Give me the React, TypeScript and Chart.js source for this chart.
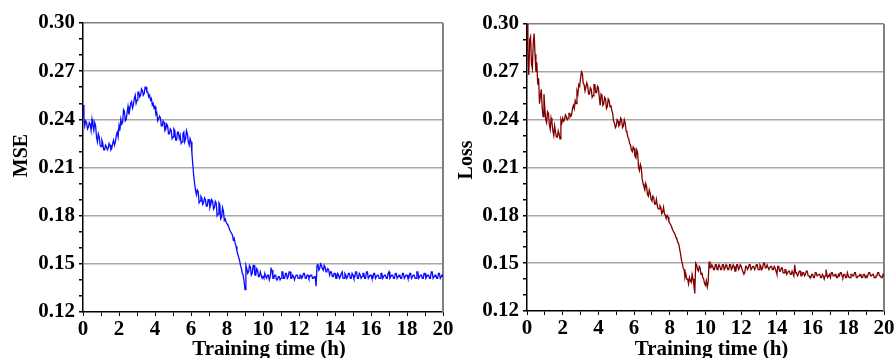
import React, { useEffect, useRef } from 'react';
import { Chart, registerables } from 'chart.js';

Chart.register(...registerables);

// ---------------- data ----------------
const SAMPLE_INTERVAL_H = 0.05; // one reading every 0.05 h, 0 .. 20 h (20 readings per row = 1 hour)

const mseValues = [
  0.249, 0.241, 0.236, 0.239, 0.238, 0.234, 0.235, 0.238, 0.237, 0.233, 0.240, 0.236, 0.233, 0.238, 0.236, 0.229, 0.226, 0.231, 0.229, 0.224,
  0.223, 0.227, 0.225, 0.221, 0.221, 0.224, 0.223, 0.221, 0.222, 0.225, 0.224, 0.221, 0.222, 0.225, 0.227, 0.224, 0.226, 0.230, 0.232, 0.229,
  0.236, 0.233, 0.240, 0.237, 0.238, 0.246, 0.245, 0.239, 0.240, 0.244, 0.248, 0.243, 0.246, 0.250, 0.251, 0.247, 0.249, 0.253, 0.255, 0.250,
  0.252, 0.257, 0.257, 0.254, 0.255, 0.259, 0.258, 0.255, 0.256, 0.260, 0.260, 0.257, 0.257, 0.254, 0.255, 0.252, 0.253, 0.249, 0.250, 0.247,
  0.248, 0.243, 0.244, 0.239, 0.240, 0.242, 0.241, 0.236, 0.236, 0.239, 0.238, 0.233, 0.234, 0.237, 0.236, 0.231, 0.231, 0.234, 0.233, 0.228,
  0.229, 0.234, 0.233, 0.227, 0.227, 0.232, 0.232, 0.228, 0.230, 0.225, 0.226, 0.231, 0.232, 0.226, 0.228, 0.233, 0.231, 0.226, 0.224, 0.228,
  0.226, 0.219, 0.212, 0.205, 0.200, 0.196, 0.193, 0.196, 0.195, 0.188, 0.189, 0.192, 0.191, 0.187, 0.188, 0.191, 0.190, 0.186, 0.186, 0.190,
  0.190, 0.185, 0.187, 0.190, 0.189, 0.184, 0.185, 0.189, 0.188, 0.180, 0.181, 0.188, 0.187, 0.178, 0.179, 0.185, 0.183, 0.177, 0.178, 0.176,
  0.175, 0.174, 0.173, 0.171, 0.170, 0.169, 0.168, 0.165, 0.166, 0.163, 0.161, 0.158, 0.156, 0.154, 0.152, 0.149, 0.147, 0.144, 0.143, 0.139,
  0.134, 0.149, 0.147, 0.144, 0.145, 0.149, 0.148, 0.143, 0.144, 0.149, 0.149, 0.143, 0.143, 0.147, 0.146, 0.142, 0.142, 0.145, 0.143, 0.141,
  0.142, 0.141, 0.144, 0.142, 0.141, 0.143, 0.143, 0.140, 0.142, 0.147, 0.146, 0.141, 0.141, 0.143, 0.143, 0.140, 0.140, 0.142, 0.142, 0.140,
  0.141, 0.145, 0.145, 0.141, 0.141, 0.144, 0.144, 0.141, 0.142, 0.145, 0.145, 0.141, 0.141, 0.143, 0.142, 0.140, 0.142, 0.143, 0.143, 0.141,
  0.141, 0.143, 0.143, 0.141, 0.142, 0.144, 0.144, 0.141, 0.141, 0.143, 0.143, 0.141, 0.142, 0.143, 0.143, 0.141, 0.141, 0.142, 0.142, 0.136,
  0.149, 0.150, 0.146, 0.147, 0.150, 0.149, 0.147, 0.146, 0.149, 0.148, 0.145, 0.146, 0.147, 0.146, 0.143, 0.145, 0.145, 0.142, 0.142, 0.144,
  0.144, 0.141, 0.141, 0.144, 0.143, 0.141, 0.142, 0.144, 0.145, 0.141, 0.141, 0.144, 0.143, 0.141, 0.142, 0.144, 0.144, 0.141, 0.141, 0.144,
  0.143, 0.141, 0.142, 0.145, 0.145, 0.141, 0.141, 0.144, 0.143, 0.141, 0.142, 0.144, 0.144, 0.141, 0.141, 0.145, 0.145, 0.141, 0.142, 0.143,
  0.143, 0.141, 0.141, 0.144, 0.144, 0.141, 0.142, 0.143, 0.143, 0.141, 0.141, 0.144, 0.144, 0.141, 0.142, 0.143, 0.143, 0.141, 0.141, 0.144,
  0.145, 0.141, 0.142, 0.143, 0.143, 0.141, 0.141, 0.144, 0.144, 0.141, 0.142, 0.143, 0.143, 0.141, 0.141, 0.144, 0.144, 0.141, 0.142, 0.143,
  0.143, 0.141, 0.141, 0.144, 0.144, 0.141, 0.142, 0.143, 0.143, 0.141, 0.141, 0.145, 0.145, 0.141, 0.142, 0.143, 0.143, 0.141, 0.141, 0.144,
  0.144, 0.141, 0.142, 0.143, 0.143, 0.141, 0.141, 0.145, 0.145, 0.141, 0.142, 0.143, 0.143, 0.141, 0.141, 0.144, 0.144, 0.141, 0.142, 0.143,
  0.142,
];

const lossValues = [
  0.300, 0.282, 0.268, 0.290, 0.292, 0.275, 0.272, 0.288, 0.294, 0.281, 0.270, 0.276, 0.262, 0.266, 0.250, 0.255, 0.259, 0.248, 0.242, 0.256,
  0.247, 0.240, 0.238, 0.245, 0.244, 0.237, 0.234, 0.241, 0.238, 0.233, 0.230, 0.236, 0.232, 0.229, 0.229, 0.233, 0.231, 0.228, 0.240, 0.238,
  0.241, 0.239, 0.240, 0.243, 0.242, 0.240, 0.241, 0.244, 0.244, 0.242, 0.243, 0.247, 0.249, 0.247, 0.252, 0.250, 0.258, 0.256, 0.262, 0.261,
  0.266, 0.270, 0.269, 0.263, 0.262, 0.258, 0.258, 0.263, 0.261, 0.256, 0.256, 0.260, 0.259, 0.254, 0.255, 0.262, 0.262, 0.257, 0.257, 0.261,
  0.260, 0.254, 0.249, 0.256, 0.255, 0.249, 0.250, 0.254, 0.253, 0.247, 0.248, 0.253, 0.252, 0.248, 0.249, 0.246, 0.244, 0.239, 0.238, 0.235,
  0.236, 0.240, 0.239, 0.236, 0.237, 0.241, 0.240, 0.235, 0.236, 0.240, 0.238, 0.233, 0.232, 0.229, 0.228, 0.225, 0.224, 0.221, 0.220, 0.223,
  0.222, 0.217, 0.216, 0.221, 0.219, 0.210, 0.208, 0.212, 0.210, 0.203, 0.200, 0.198, 0.196, 0.200, 0.198, 0.193, 0.192, 0.196, 0.194, 0.190,
  0.189, 0.192, 0.191, 0.187, 0.187, 0.190, 0.186, 0.184, 0.184, 0.186, 0.185, 0.181, 0.182, 0.185, 0.181, 0.180, 0.178, 0.180, 0.179, 0.176,
  0.175, 0.174, 0.173, 0.171, 0.170, 0.169, 0.168, 0.166, 0.165, 0.163, 0.162, 0.159, 0.156, 0.152, 0.150, 0.147, 0.146, 0.141, 0.143, 0.140,
  0.140, 0.137, 0.141, 0.139, 0.138, 0.143, 0.140, 0.136, 0.131, 0.150, 0.149, 0.146, 0.145, 0.148, 0.147, 0.143, 0.144, 0.141, 0.140, 0.137,
  0.136, 0.139, 0.135, 0.138, 0.151, 0.147, 0.147, 0.149, 0.148, 0.146, 0.146, 0.149, 0.149, 0.146, 0.147, 0.149, 0.148, 0.146, 0.146, 0.149,
  0.149, 0.146, 0.147, 0.149, 0.148, 0.146, 0.146, 0.149, 0.149, 0.146, 0.147, 0.149, 0.148, 0.145, 0.145, 0.149, 0.149, 0.146, 0.147, 0.149,
  0.148, 0.146, 0.146, 0.143, 0.144, 0.148, 0.148, 0.146, 0.147, 0.149, 0.149, 0.146, 0.146, 0.148, 0.148, 0.146, 0.147, 0.149, 0.149, 0.146,
  0.146, 0.149, 0.148, 0.146, 0.147, 0.150, 0.150, 0.147, 0.147, 0.149, 0.149, 0.146, 0.147, 0.148, 0.148, 0.146, 0.146, 0.148, 0.147, 0.145,
  0.143, 0.148, 0.148, 0.145, 0.145, 0.147, 0.147, 0.144, 0.144, 0.146, 0.146, 0.143, 0.144, 0.145, 0.145, 0.143, 0.143, 0.145, 0.145, 0.142,
  0.149, 0.144, 0.144, 0.142, 0.143, 0.145, 0.145, 0.142, 0.142, 0.144, 0.144, 0.142, 0.143, 0.145, 0.145, 0.142, 0.142, 0.141, 0.141, 0.143,
  0.143, 0.141, 0.141, 0.144, 0.144, 0.142, 0.142, 0.143, 0.143, 0.141, 0.141, 0.143, 0.142, 0.140, 0.142, 0.146, 0.143, 0.141, 0.142, 0.143,
  0.141, 0.144, 0.144, 0.142, 0.142, 0.143, 0.143, 0.141, 0.141, 0.143, 0.142, 0.144, 0.144, 0.142, 0.141, 0.143, 0.143, 0.141, 0.141, 0.144,
  0.142, 0.141, 0.141, 0.143, 0.143, 0.142, 0.142, 0.144, 0.144, 0.141, 0.141, 0.142, 0.142, 0.143, 0.143, 0.141, 0.141, 0.143, 0.143, 0.141,
  0.142, 0.141, 0.141, 0.144, 0.144, 0.142, 0.142, 0.143, 0.143, 0.141, 0.141, 0.142, 0.142, 0.144, 0.144, 0.142, 0.142, 0.141, 0.141, 0.143,
  0.142,
];

const xTickLabels = [0, 2, 4, 6, 8, 10, 12, 14, 16, 18, 20];
const yTickLabels = ['0.12', '0.15', '0.18', '0.21', '0.24', '0.27', '0.30'];
const X_TITLE = 'Training time (h)';

// ---------------- styling ----------------
const FONT_FAMILY = "'Liberation Serif', 'Times New Roman', serif";
const tickFont = { family: FONT_FAMILY, size: 21, weight: 'bold' as const };

const frameAndTitles = {
  id: 'frameAndTitles',
  beforeDatasetsDraw(chart: any) {
    const { ctx, chartArea } = chart;
    ctx.save();
    ctx.strokeStyle = '#808080';
    ctx.lineWidth = 2;
    ctx.beginPath();
    ctx.moveTo(chartArea.right, chartArea.top);
    ctx.lineTo(chartArea.right, chartArea.bottom);
    ctx.stroke();
    ctx.restore();
  },
  afterDraw(chart: any, _args: any, opts: any) {
    const { ctx, chartArea } = chart;
    ctx.save();
    ctx.font = `bold 21px ${FONT_FAMILY}`;
    ctx.fillStyle = '#000';
    ctx.textAlign = 'center';
    ctx.textBaseline = 'middle';
    ctx.fillText(opts.xTitle, (chartArea.left + chartArea.right) / 2 + opts.xShift, opts.xTitleY);
    ctx.font = `bold 20px ${FONT_FAMILY}`;
    ctx.translate(opts.yTitleX, (chartArea.top + chartArea.bottom) / 2 + opts.yShift);
    ctx.rotate(-Math.PI / 2);
    ctx.fillText(opts.yTitle, 0, 0);
    ctx.restore();
  },
};

type PanelSpec = {
  values: number[];
  color: string;
  yTitle: string;
  left: number;
  width: number;
  padTop: number;
  padRight: number;
  yAxisWidth: number;
  xAxisHeight: number;
  yTitleX: number;
  yShift: number;
};

function ChartPanel({ spec }: { spec: PanelSpec }) {
  const ref = useRef<HTMLCanvasElement>(null);
  useEffect(() => {
    const points = spec.values.map((v, i) => ({ x: i * SAMPLE_INTERVAL_H, y: v }));
    const chart = new Chart(ref.current!, {
      type: 'line',
      data: {
        datasets: [
          {
            data: points,
            borderColor: spec.color,
            borderWidth: 1.3,
            pointRadius: 0,
            tension: 0,
            fill: false,
          },
        ],
      },
      options: {
        responsive: false,
        animation: false,
        devicePixelRatio: 1,
        layout: { padding: { top: spec.padTop, right: spec.padRight, left: 0, bottom: 0 } },
        plugins: {
          legend: { display: false },
          tooltip: { enabled: false },
          frameAndTitles: {
            xTitle: X_TITLE,
            xShift: 6,
            xTitleY: 350,
            yTitle: spec.yTitle,
            yTitleX: spec.yTitleX,
            yShift: spec.yShift,
          },
        } as any,
        scales: {
          x: {
            type: 'linear',
            min: 0,
            max: 20,
            afterFit: (scale: any) => {
              scale.height = spec.xAxisHeight;
            },
            ticks: {
              stepSize: 1,
              autoSkip: false,
              maxRotation: 0,
              padding: 1,
              color: '#000',
              font: tickFont,
              callback: (value: any) =>
                xTickLabels.includes(Math.round(Number(value))) ? String(Math.round(Number(value))) : '',
            },
            grid: {
              drawOnChartArea: false,
              drawTicks: true,
              tickLength: 4,
              tickColor: '#000',
            },
            border: { color: '#000', width: 1.5 },
          },
          y: {
            type: 'linear',
            min: 0.12,
            max: 0.3,
            afterFit: (scale: any) => {
              scale.width = spec.yAxisWidth;
            },
            ticks: {
              stepSize: 0.01,
              autoSkip: false,
              padding: 4,
              color: '#000',
              font: tickFont,
              callback: (value: any) => {
                const s = Number(value).toFixed(2);
                return yTickLabels.includes(s) ? s : '';
              },
            },
            grid: {
              drawTicks: true,
              tickLength: 4,
              tickColor: '#000',
              lineWidth: 1.5,
              color: (ctx: any) => {
                const s = Number(ctx.tick?.value).toFixed(2);
                if (s === '0.12') return 'rgba(0,0,0,0)';
                if (s === '0.30') return '#808080';
                return yTickLabels.includes(s) ? '#a8a8a8' : 'rgba(0,0,0,0)';
              },
            },
            border: { color: '#000', width: 1.5 },
          },
        },
      },
      plugins: [frameAndTitles],
    });
    return () => chart.destroy();
  }, []);
  return (
    <canvas
      ref={ref}
      width={spec.width}
      height={358}
      style={{ position: 'absolute', left: spec.left, top: 0, width: spec.width, height: 358 }}
    />
  );
}

const leftPanel: PanelSpec = {
  values: mseValues,
  color: '#0a0aff',
  yTitle: 'MSE',
  left: 0,
  width: 460,
  padTop: 23,
  padRight: 17,
  yAxisWidth: 83,
  xAxisHeight: 46,
  yTitleX: 21.5,
  yShift: -12,
};

const rightPanel: PanelSpec = {
  values: lossValues,
  color: '#800000',
  yTitle: 'Loss',
  left: 456,
  width: 440,
  padTop: 24,
  padRight: 12,
  yAxisWidth: 71,
  xAxisHeight: 47,
  yTitleX: 10.5,
  yShift: -7.5,
};

export default function App() {
  return (
    <div
      style={{
        position: 'fixed',
        left: 0,
        top: 0,
        width: 896,
        height: 358,
        overflow: 'hidden',
        background: '#fff',
      }}
    >
      <ChartPanel spec={leftPanel} />
      <ChartPanel spec={rightPanel} />
    </div>
  );
}
